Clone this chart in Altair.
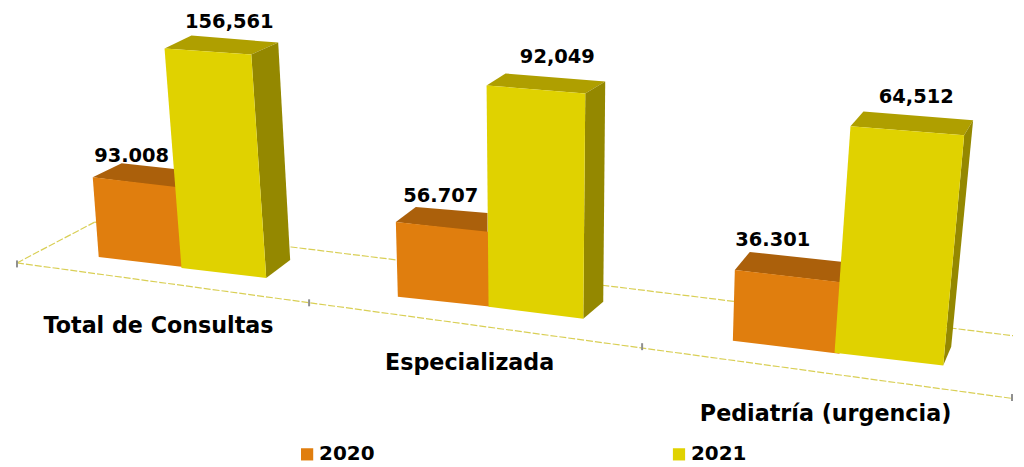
import altair as alt
import pandas as pd

CATEGORIES = ["Total de Consultas", "Especializada", "Pediatría (urgencia)"]
YEARS = ["2020", "2021"]
VALUE_LABELS_2020 = ["93.008", "56.707", "36.301"]
VALUE_LABELS_2021 = ["156,561", "92,049", "64,512"]

# Outlines of the drawn 3D bars: (x, y) image pixels
FRONT_2020 = [
    [(93, 177), (179, 187), (184, 267), (99, 257)],
    [(397, 222), (492, 232), (493, 307), (399, 297)],
    [(737, 270), (848, 283), (842, 354), (735, 341)],
]
TOP_2020 = [
    [(93, 177), (122, 163), (177, 169), (177, 188)],
    [(397, 222), (417, 207), (489, 213), (489, 233)],
    [(737, 270), (752, 252), (846, 262), (846, 283)],
]
FRONT_2021 = [
    [(165, 48), (252, 54), (267, 278), (182, 268)],
    [(488, 85), (587, 93), (585, 319), (490, 307)],
    [(853, 126), (967, 135), (946, 366), (837, 353)],
]
TOP_2021 = [
    [(165, 48), (192, 35), (279, 42), (252, 54)],
    [(488, 85), (507, 73), (607, 81), (587, 93)],
    [(853, 126), (866, 111), (976, 120), (967, 135)],
]
SIDE_2021 = [
    [(252, 54), (279, 42), (291, 260), (267, 278)],
    [(587, 93), (607, 81), (605, 302), (585, 319)],
    [(967, 135), (976, 120), (954, 347), (946, 366)],
]
VALUE_LABEL_POS_2020 = [(132, 156), (442, 196), (775, 240)]
VALUE_LABEL_POS_2021 = [(230, 21), (559, 56), (919, 97)]
CATEGORY_LABEL_POS = [(159, 326), (471, 363), (828, 415)]

FLOOR_FRONT = [(17, 263), (1016, 399)]
FLOOR_LEFT = [(17, 263), (95, 222)]
FLOOR_BACK = [(95, 222), (292, 247), (1016, 336)]
FLOOR_TICKS = [(17, 264), (310, 303), (644, 347), (1015, 398)]

COLOR_2020 = "#E07E0E"
COLOR_2021 = "#E0D200"
TOP_COLOR_2020 = "#AB600B"
TOP_COLOR_2021 = "#AF9F00"
SIDE_COLOR_2021 = "#948800"
FLOOR_COLOR = "#D9CF55"
TICK_COLOR = "#8F8F8F"
FONT = "DejaVu Sans"


def faces(outlines, year, kind, fill):
    rows = []
    for c, outline in zip(CATEGORIES, outlines):
        for i, (x, y) in enumerate(outline + outline[:1]):
            rows.append(dict(category=c, year=year, face=f"{c}-{year}-{kind}", i=i, x=x, y=y, fill=fill))
    return rows


fronts = pd.DataFrame(faces(FRONT_2020, "2020", "front", COLOR_2020) + faces(FRONT_2021, "2021", "front", COLOR_2021))
shades = pd.DataFrame(
    faces(TOP_2020, "2020", "top", TOP_COLOR_2020)
    + faces(TOP_2021, "2021", "top", TOP_COLOR_2021)
    + faces(SIDE_2021, "2021", "side", SIDE_COLOR_2021)
)
floor = pd.DataFrame(
    [dict(line=n, i=i, x=p[0], y=p[1]) for n, pts in [("front", FLOOR_FRONT), ("left", FLOOR_LEFT), ("back", FLOOR_BACK)] for i, p in enumerate(pts)]
)
ticks = pd.DataFrame([dict(x=x, y=y - 3.5, y2=y + 3.5) for x, y in FLOOR_TICKS])
value_labels = pd.DataFrame(
    [dict(text=t, x=p[0], y=p[1]) for t, p in zip(VALUE_LABELS_2020 + VALUE_LABELS_2021, VALUE_LABEL_POS_2020 + VALUE_LABEL_POS_2021)]
)
category_labels = pd.DataFrame([dict(text=t, x=p[0], y=p[1]) for t, p in zip(CATEGORIES, CATEGORY_LABEL_POS)])

X = alt.X("x:Q", scale=alt.Scale(domain=[8, 1016], nice=False, zero=False), axis=None)
Y = alt.Y("y:Q", scale=alt.Scale(domain=[467, 8], nice=False, zero=False), axis=None)

floor_layer = alt.Chart(floor).mark_line(color=FLOOR_COLOR, strokeWidth=1.2, strokeDash=[7, 2]).encode(X, Y, detail="line:N", order="i:Q")
tick_layer = alt.Chart(ticks).mark_rule(color=TICK_COLOR, strokeWidth=2).encode(X, Y, y2="y2:Q")
shade_layer = alt.Chart(shades).mark_line(filled=True, strokeWidth=0).encode(
    X, Y, detail="face:N", order="i:Q", fill=alt.Fill("fill:N", scale=None, legend=None)
)
front_layer = alt.Chart(fronts).mark_line(filled=True, strokeWidth=0).encode(
    X, Y, detail="face:N", order="i:Q",
    fill=alt.Fill(
        "year:N",
        scale=alt.Scale(domain=YEARS, range=[COLOR_2020, COLOR_2021]),
        legend=alt.Legend(
            title=None, orient="none", legendX=290, legendY=437, direction="horizontal", columns=2,
            columnPadding=295, symbolType="square", symbolSize=150, symbolStrokeWidth=0,
            labelFont=FONT, labelFontWeight="bold", labelFontSize=20, labelColor="#000000", labelOffset=2, padding=0,
        ),
    ),
)
value_layer = alt.Chart(value_labels).mark_text(font=FONT, fontWeight="bold", fontSize=19.5, color="#000000").encode(X, Y, text="text:N")
category_layer = alt.Chart(category_labels).mark_text(font=FONT, fontWeight="bold", fontSize=22.3, color="#000000").encode(X, Y, text="text:N")

chart = (
    alt.layer(floor_layer, tick_layer, shade_layer, front_layer, value_layer, category_layer)
    .resolve_scale(fill="independent")
    .properties(width=1008, height=459, padding=0, background="#FFFFFF")
    .configure_view(stroke=None)
)
chart.save("out.html", embed_options={"renderer": "svg", "actions": False})
